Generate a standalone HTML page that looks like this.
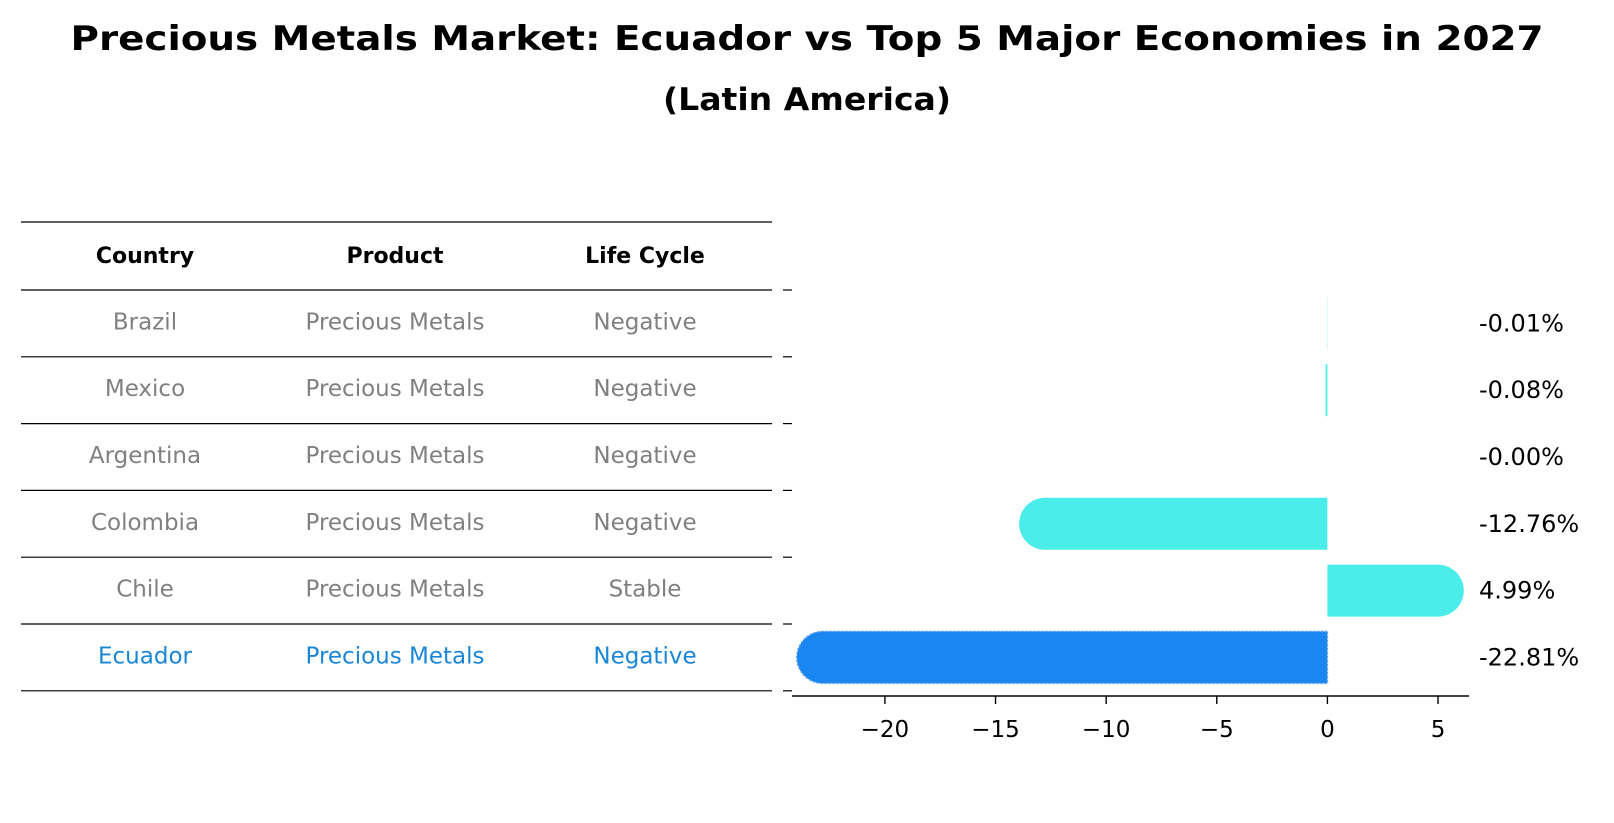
<!DOCTYPE html>
<html><head><meta charset="utf-8">
<style>
html,body{margin:0;padding:0;background:#fff;}
svg{display:block;font-family:"DejaVu Sans","Liberation Sans",sans-serif;}
</style></head>
<body>
<svg id="chart" width="1614" height="823" viewBox="0 0 1614 823">
  <text x="807" y="50" text-anchor="middle" font-size="34" font-weight="bold" fill="#000" textLength="1473" lengthAdjust="spacingAndGlyphs">Precious Metals Market: Ecuador vs Top 5 Major Economies in 2027</text>
  <text x="807" y="110" text-anchor="middle" font-size="31" font-weight="bold" fill="#000" textLength="288" lengthAdjust="spacingAndGlyphs">(Latin America)</text>
  <g id="table"></g>
  <g id="plot"></g>
</svg>
<script>
const countries = ["Brazil","Mexico","Argentina","Colombia","Chile","Ecuador"];
const products = ["Precious Metals","Precious Metals","Precious Metals","Precious Metals","Precious Metals","Precious Metals"];
const lifeCycles = ["Negative","Negative","Negative","Negative","Stable","Negative"];
const values = [-0.01,-0.08,-0.00,-12.76,4.99,-22.81];
const valueLabels = ["-0.01%","-0.08%","-0.00%","-12.76%","4.99%","-22.81%"];
const xTicks = [-20,-15,-10,-5,0,5];
const headers = ["Country","Product","Life Cycle"];

const NS="http://www.w3.org/2000/svg";
function mk(tag, attrs, parent){const e=document.createElementNS(NS,tag);for(const k in attrs)e.setAttribute(k,attrs[k]);parent.appendChild(e);return e;}

const xMin=-24.2, xMax=6.4, pxL=792, pxR=1469;
function x(v){return pxL+(v-xMin)/(xMax-xMin)*(pxR-pxL);}
const rowTop=290, rowH=66.8;
function rowCenter(i){return rowTop+rowH*(i+0.5);}

// table
const table=document.getElementById('table');
const colX=[145,395,645];
const lines=[222];
for(let i=0;i<=countries.length;i++)lines.push(rowTop+rowH*i);
lines.forEach((ly)=>{
  const l=mk('line',{x1:21,x2:772,y1:ly,y2:ly,stroke:'#000','stroke-width':1.2},table);
  
  
});
headers.forEach((h,j)=>{
  const t=mk('text',{x:colX[j],y:263,'text-anchor':'middle','font-size':22,'font-weight':'bold',fill:'#000'},table);
  t.textContent=h;
  
  
});
countries.forEach((c,i)=>{
  const col = c==="Ecuador" ? "#1a86d8" : "#808080";
  [c,products[i],lifeCycles[i]].forEach((txt,j)=>{
    const t=mk('text',{x:colX[j],y:rowCenter(i)+6,'text-anchor':'middle','font-size':23,fill:col},table);
    t.textContent=txt;
    
    
  });
});

// plot
const plot=document.getElementById('plot');
const barH=52, r=barH/2;
values.forEach((v,i)=>{
  const cy=rowCenter(i), x0=x(0), xv=x(v);
  const isEc = countries[i]==="Ecuador";
  const fill = isEc ? "#1a86f0" : "#4aedea";
  let d;
  const left=Math.min(x0,xv), right=Math.max(x0,xv);
  if(Math.abs(v)>=1){
    if(v<0) d=`M${x0},${cy-r} L${xv},${cy-r} A${r},${r} 0 0 0 ${xv},${cy+r} L${x0},${cy+r} Z`;
    else d=`M${x0},${cy-r} L${xv},${cy-r} A${r},${r} 0 0 1 ${xv},${cy+r} L${x0},${cy+r} Z`;
  } else {
    d=`M${left},${cy-r} L${right},${cy-r} L${right},${cy+r} L${left},${cy+r} Z`;
  }
  const p=mk('path',{d:d,fill:fill},plot);
  if(isEc){p.setAttribute('stroke','#5a9ee8');p.setAttribute('stroke-width','1.5');p.setAttribute('stroke-dasharray','2 2');}
  
  
  const t=mk('text',{x:1479,y:cy+8,'font-size':24,fill:'#000'},plot);
  t.textContent=valueLabels[i];
  
  
});
// y ticks at row boundaries
for(let i=0;i<=countries.length;i++){
  const yy=rowTop+rowH*i;
  const tk=mk('line',{x1:783,x2:792,y1:yy,y2:yy,stroke:'#000','stroke-width':1.2},plot);
  
  
}
// x axis
const axY=696;
const ax=mk('line',{x1:pxL,x2:pxR,y1:axY,y2:axY,stroke:'#000','stroke-width':1.6},plot);


xTicks.forEach(tv=>{
  const tk=mk('line',{x1:x(tv),x2:x(tv),y1:axY,y2:axY+8,stroke:'#000','stroke-width':1.4},plot);
  
  
  const t=mk('text',{x:x(tv),y:737,'text-anchor':'middle','font-size':23,fill:'#000'},plot);
  t.textContent=(tv<0?'\u2212'+Math.abs(tv):String(tv));
  
  
});
</script>
</body></html>
